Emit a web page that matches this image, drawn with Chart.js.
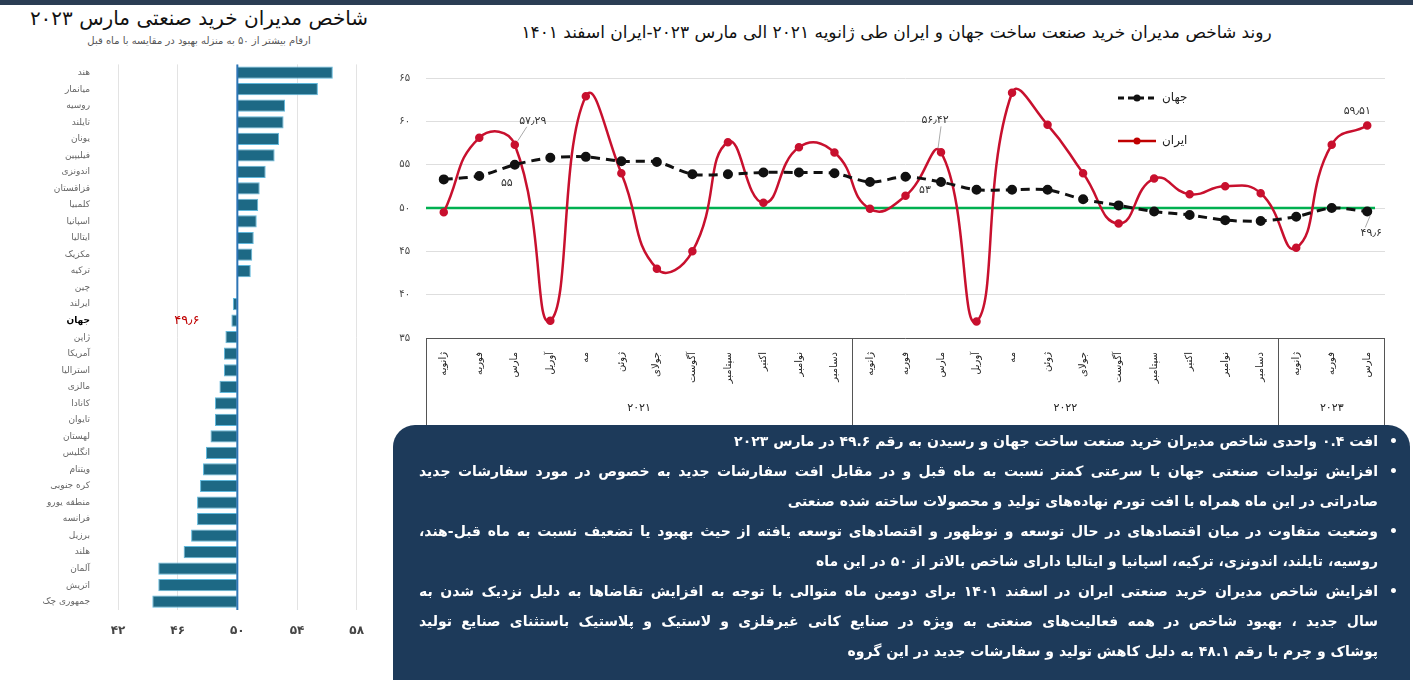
<!DOCTYPE html>
<html lang="fa">
<head>
<meta charset="utf-8">
<script src="https://cdn.jsdelivr.net/npm/chart.js@4.4.0/dist/chart.umd.min.js"></script>
<style>
    body { margin: 0; width: 1413px; height: 680px; background: #fff; position: relative; overflow: hidden; font-family: "DejaVu Sans", sans-serif; }
    .topbar { position: absolute; left: 0; top: 0; width: 1413px; height: 5px; background: #2b3d54; }
    #left-title { position: absolute; left: 0; top: 6px; width: 398px; text-align: center; font-size: 20px; color: #111; }
    #left-sub { position: absolute; left: 0; top: 35px; width: 398px; text-align: center; font-size: 10px; color: #555; }
    #left-wrap { position: absolute; left: 0; top: 39px; width: 378px; height: 601px; }
    #right-title { position: absolute; left: 380px; top: 22px; width: 1033px; text-align: center; font-size: 17px; color: #111; }
    #right-wrap { position: absolute; left: 380px; top: 0; width: 1033px; height: 428px; }
    #notes { position: absolute; left: 393px; top: 425px; width: 1017px; height: 255px; background: #1d3a5a; border-radius: 22px 22px 0 0; color: #fff; box-sizing: border-box; padding-top: 1px; }
    .ln { position: relative; height: 30px; line-height: 30px; padding: 0 32px 0 26px; white-space: nowrap; font-size: 14px; font-weight: bold; text-align: right; }
    .ln.j { text-align: justify; text-align-last: justify; }
    .ln.b::before { content: '•'; position: absolute; right: 12px; }
</style>
</head>
<body>
<div class="topbar"></div>
<div id="left-title" dir="rtl">شاخص مدیران خرید صنعتی مارس ۲۰۲۳</div>
<div id="left-sub" dir="rtl">ارقام بیشتر از ۵۰ به منزله بهبود در مقایسه با ماه قبل</div>
<div id="left-wrap"><canvas id="chart-countries"></canvas></div>
<div id="right-title" dir="rtl">روند شاخص مدیران خرید صنعت ساخت جهان و ایران طی ژانویه ۲۰۲۱ الی مارس ۲۰۲۳-ایران اسفند ۱۴۰۱</div>
<div id="right-wrap"><canvas id="chart-trend"></canvas></div>
<div id="notes" dir="rtl">
    <div class="ln b">افت ۰.۴ واحدی شاخص مدیران خرید صنعت ساخت جهان و رسیدن به رقم ۴۹.۶ در مارس ۲۰۲۳</div>
    <div class="ln b j">افزایش تولیدات صنعتی جهان با سرعتی کمتر نسبت به ماه قبل و در مقابل افت سفارشات جدید به خصوص در مورد سفارشات جدید</div>
    <div class="ln">صادراتی در این ماه همراه با افت تورم نهاده‌های تولید و محصولات ساخته شده صنعتی</div>
    <div class="ln b j">وضعیت متفاوت در میان اقتصادهای در حال توسعه و نوظهور و اقتصادهای توسعه یافته از حیث بهبود یا تضعیف نسبت به ماه قبل-هند،</div>
    <div class="ln">روسیه، تایلند، اندونزی، ترکیه، اسپانیا و ایتالیا دارای شاخص بالاتر از ۵۰ در این ماه</div>
    <div class="ln b j">افزایش شاخص مدیران خرید صنعتی ایران در اسفند ۱۴۰۱ برای دومین ماه متوالی با توجه به افزایش تقاضاها به دلیل نزدیک شدن به</div>
    <div class="ln j">سال جدید ، بهبود شاخص در همه فعالیت‌های صنعتی به ویژه در صنایع کانی غیرفلزی و لاستیک و پلاستیک باستثنای صنایع تولید</div>
    <div class="ln">پوشاک و چرم با رقم ۴۸.۱ به دلیل کاهش تولید و سفارشات جدید در این گروه</div>
</div>

<script>
// Countries PMI, March 2023
const countries = ['هند', 'میانمار', 'روسیه', 'تایلند', 'یونان', 'فیلیپین', 'اندونزی', 'قزاقستان', 'کلمبیا', 'اسپانیا', 'ایتالیا', 'مکزیک', 'ترکیه', 'چین', 'ایرلند', 'جهان', 'ژاپن', 'آمریکا', 'استرالیا', 'مالزی', 'کانادا', 'تایوان', 'لهستان', 'انگلیس', 'ویتنام', 'کره جنوبی', 'منطقه یورو', 'فرانسه', 'برزیل', 'هلند', 'آلمان', 'اتریش', 'جمهوری چک'];
const pmiMarch = [56.4, 55.4, 53.2, 53.1, 52.8, 52.5, 51.9, 51.5, 51.4, 51.3, 51.1, 51.0, 50.9, 50.0, 49.7, 49.6, 49.2, 49.1, 49.1, 48.8, 48.5, 48.5, 48.2, 47.9, 47.7, 47.5, 47.3, 47.3, 46.9, 46.4, 44.7, 44.7, 44.3];
const countryTicks = [42, 46, 50, 54, 58];

// Trend Jan 2021 - Mar 2023
const monthNames = ['ژانویه', 'فوریه', 'مارس', 'آوریل', 'مه', 'ژوئن', 'جولای', 'آگوست', 'سپتامبر', 'اکتبر', 'نوامبر', 'دسامبر',
    'ژانویه', 'فوریه', 'مارس', 'آوریل', 'مه', 'ژوئن', 'جولای', 'آگوست', 'سپتامبر', 'اکتبر', 'نوامبر', 'دسامبر',
    'ژانویه', 'فوریه', 'مارس'];
const years = ['2021', '2022', '2023'];
const monthsPerYear = [12, 12, 3];
const worldPmi = [53.3, 53.7, 55, 55.8, 55.9, 55.4, 55.3, 53.9, 53.9, 54.1, 54.1, 54.0,
    53.0, 53.6, 53, 52.1, 52.1, 52.1, 51.0, 50.3, 49.6, 49.2, 48.6, 48.5,
    49.0, 50.0, 49.6];
const iranPmi = [49.5, 58.1, 57.29, 37.0, 62.9, 54.0, 43.0, 45.0, 57.6, 50.6, 57.0, 56.4,
    49.9, 51.4, 56.42, 36.9, 63.3, 59.6, 54.0, 48.2, 53.4, 51.6, 52.5, 51.7,
    45.4, 57.3, 59.51];
const trendTicks = [35, 40, 45, 50, 55, 60, 65];

const FONT = '"DejaVu Sans", sans-serif';

// Persian digits
function toFa(v) {
    return String(v).replace(/\./g, '٫').replace(/[0-9]/g, d => '۰۱۲۳۴۵۶۷۸۹'[d]);
}

// Left chart decorations
const countryDecor = {
    id: 'countryDecor',
    afterDatasetsDraw(chart) {
        const { ctx, chartArea, scales } = chart;
        const x50 = scales.x.getPixelForValue(50);
        ctx.save();
        ctx.strokeStyle = '#2e75b6';
        ctx.lineWidth = 2;
        ctx.beginPath();
        ctx.moveTo(x50, chartArea.top);
        ctx.lineTo(x50, chartArea.bottom);
        ctx.stroke();

        const wi = countries.indexOf('جهان');
        ctx.fillStyle = '#c00000';
        ctx.font = '13px ' + FONT;
        ctx.textAlign = 'right';
        ctx.textBaseline = 'middle';
        ctx.fillText(toFa(pmiMarch[wi]), scales.x.getPixelForValue(pmiMarch[wi]) - 32, scales.y.getPixelForValue(wi));
        ctx.restore();
    }
};

new Chart(document.getElementById('chart-countries'), {
    type: 'bar',
    data: {
        labels: countries,
        datasets: [{
            data: pmiMarch,
            base: 50,
            backgroundColor: '#1d6985',
            borderColor: '#5fb8dc',
            borderWidth: 1,
            barPercentage: 0.74,
            categoryPercentage: 1
        }]
    },
    options: {
        indexAxis: 'y',
        responsive: true,
        maintainAspectRatio: false,
        animation: false,
        layout: { padding: { top: 7, right: 21, left: 0, bottom: 0 } },
        plugins: { legend: { display: false }, tooltip: { enabled: false } },
        scales: {
            x: {
                min: 42,
                max: 58,
                afterBuildTicks: s => { s.ticks = countryTicks.map(v => ({ value: v })); },
                afterFit: s => { s.height = 30; },
                grid: { color: '#e3e3e3', drawTicks: false },
                border: { display: false },
                ticks: {
                    color: '#444',
                    padding: 14,
                    font: { family: FONT, size: 12, weight: 'bold' },
                    callback: v => toFa(v)
                }
            },
            y: {
                afterFit: s => { s.width = 118; },
                grid: { display: false },
                border: { display: false },
                ticks: {
                    autoSkip: false,
                    padding: 20,
                    color: c => countries[c.index] === 'جهان' ? '#000' : '#666',
                    font: c => ({ family: FONT, size: 9, weight: countries[c.index] === 'جهان' ? 'bold' : 'normal' })
                }
            }
        }
    },
    plugins: [countryDecor]
});

// Right chart decorations: 50 line, category box, years, legend, value labels
const trendDecor = {
    id: 'trendDecor',
    beforeDatasetsDraw(chart) {
        const { ctx, chartArea, scales } = chart;
        const y50 = scales.y.getPixelForValue(50);
        ctx.save();
        ctx.strokeStyle = '#00b050';
        ctx.lineWidth = 2.5;
        ctx.beginPath();
        ctx.moveTo(chartArea.left, y50);
        ctx.lineTo(chartArea.right - 10, y50);
        ctx.stroke();
        ctx.restore();
    },
    afterDraw(chart) {
        const { ctx, chartArea, scales } = chart;
        const x = scales.x;
        const top = chartArea.bottom;
        const bottom = chart.height;
        ctx.save();
        ctx.strokeStyle = '#555';
        ctx.lineWidth = 1;
        ctx.beginPath();
        ctx.moveTo(chartArea.left, top + 0.5);
        ctx.lineTo(chartArea.right, top + 0.5);
        ctx.moveTo(chartArea.left + 0.5, top);
        ctx.lineTo(chartArea.left + 0.5, bottom);
        ctx.moveTo(chartArea.right - 0.5, top);
        ctx.lineTo(chartArea.right - 0.5, bottom);
        ctx.stroke();

        // year groups
        ctx.fillStyle = '#222';
        ctx.font = '11px ' + FONT;
        ctx.textAlign = 'center';
        ctx.textBaseline = 'middle';
        let start = 0;
        years.forEach((yr, i) => {
            const end = start + monthsPerYear[i] - 1;
            const left = start === 0 ? chartArea.left : (x.getPixelForValue(start - 1) + x.getPixelForValue(start)) / 2;
            const right = i === years.length - 1 ? chartArea.right : (x.getPixelForValue(end) + x.getPixelForValue(end + 1)) / 2;
            if (i > 0) {
                ctx.beginPath();
                ctx.moveTo(Math.round(left) + 0.5, top);
                ctx.lineTo(Math.round(left) + 0.5, bottom);
                ctx.stroke();
            }
            ctx.fillText(toFa(yr), (left + right) / 2, bottom - 20);
            start = end + 1;
        });

        // legend
        const lx = 738;
        const items = [
            { label: 'جهان', color: '#111', dash: [6, 4], y: 98 },
            { label: 'ایران', color: '#c00000', dash: [], y: 141 }
        ];
        items.forEach(it => {
            ctx.strokeStyle = it.color;
            ctx.fillStyle = it.color;
            ctx.lineWidth = it.dash.length ? 3 : 2.5;
            ctx.setLineDash(it.dash);
            ctx.beginPath();
            ctx.moveTo(lx, it.y);
            ctx.lineTo(lx + 38, it.y);
            ctx.stroke();
            ctx.setLineDash([]);
            ctx.beginPath();
            ctx.arc(lx + 19, it.y, 3.5, 0, Math.PI * 2);
            ctx.fill();
            ctx.fillStyle = '#222';
            ctx.font = '12px ' + FONT;
            ctx.textAlign = 'left';
            ctx.fillText(it.label, lx + 44, it.y);
        });

        // value labels
        const labels = [
            { ds: 1, i: 2, dx: 18, dy: -24, leader: true },
            { ds: 0, i: 2, dx: -8, dy: 18 },
            { ds: 1, i: 14, dx: -6, dy: -32, leader: true },
            { ds: 0, i: 14, dx: -16, dy: 8 },
            { ds: 1, i: 26, dx: -10, dy: -14 },
            { ds: 0, i: 26, dx: 4, dy: 22, leader: true }
        ];
        ctx.font = '11px ' + FONT;
        ctx.textAlign = 'center';
        labels.forEach(l => {
            const pt = chart.getDatasetMeta(l.ds).data[l.i];
            const val = chart.data.datasets[l.ds].data[l.i];
            const tx = pt.x + l.dx, ty = pt.y + l.dy;
            if (l.leader) {
                ctx.strokeStyle = '#aaa';
                ctx.lineWidth = 1;
                ctx.beginPath();
                ctx.moveTo(pt.x + Math.sign(l.dx) * 3, pt.y + Math.sign(l.dy) * 4);
                ctx.lineTo(tx - Math.sign(l.dx) * 6, ty - Math.sign(l.dy) * 6);
                ctx.stroke();
            }
            ctx.fillStyle = '#333';
            ctx.fillText(toFa(val), tx, ty);
        });
        ctx.restore();
    }
};

new Chart(document.getElementById('chart-trend'), {
    type: 'line',
    data: {
        labels: monthNames,
        datasets: [
            {
                label: 'جهان',
                data: worldPmi,
                borderColor: '#111',
                backgroundColor: '#111',
                borderWidth: 3,
                borderDash: [9, 6],
                pointRadius: 3.5,
                tension: 0.3
            },
            {
                label: 'ایران',
                data: iranPmi,
                borderColor: '#c8102e',
                backgroundColor: '#c8102e',
                borderWidth: 2.5,
                pointRadius: 3,
                tension: 0.5
            }
        ]
    },
    options: {
        responsive: true,
        maintainAspectRatio: false,
        animation: false,
        layout: { padding: { top: 78, right: 28, bottom: 35, left: 0 } },
        plugins: { legend: { display: false }, tooltip: { enabled: false } },
        scales: {
            x: {
                offset: true,
                afterFit: s => { s.height = 55; },
                grid: { display: false },
                border: { display: false },
                ticks: {
                    autoSkip: false,
                    maxRotation: 90,
                    minRotation: 90,
                    padding: 6,
                    color: '#222',
                    font: { family: FONT, size: 10 }
                }
            },
            y: {
                min: 35,
                max: 65,
                afterBuildTicks: s => { s.ticks = trendTicks.map(v => ({ value: v })); },
                afterFit: s => { s.width = 46; },
                grid: { color: '#dedede', drawTicks: false },
                border: { display: false },
                ticks: {
                    padding: 16,
                    color: '#444',
                    font: { family: FONT, size: 10 },
                    callback: v => toFa(v)
                }
            }
        }
    },
    plugins: [trendDecor]
});
</script>
</body>
</html>
